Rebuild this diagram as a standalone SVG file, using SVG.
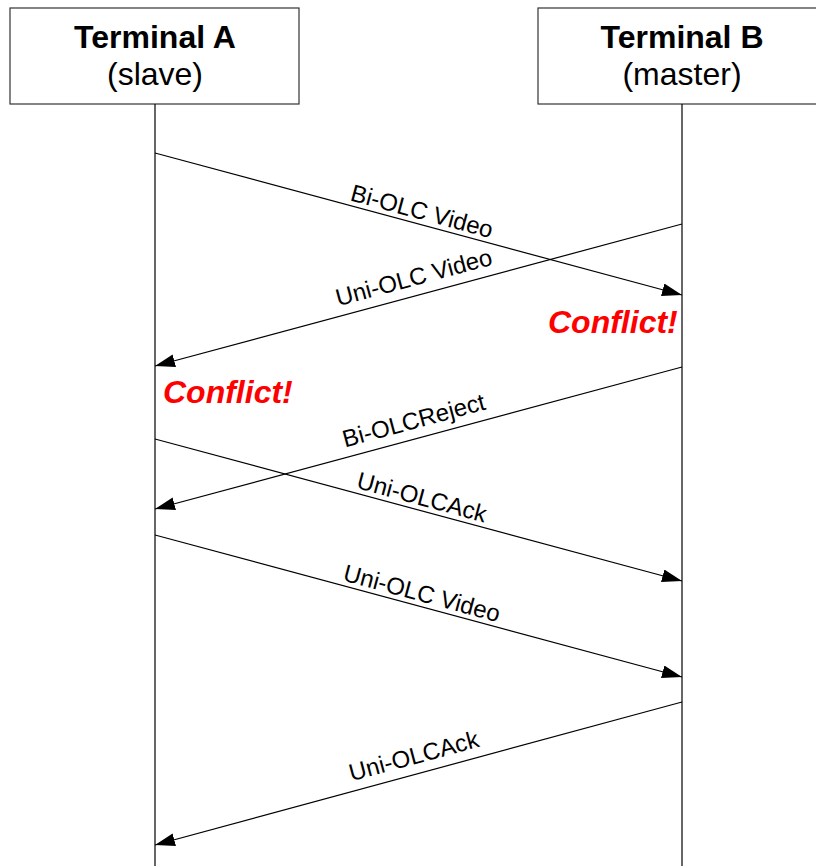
<svg xmlns="http://www.w3.org/2000/svg" width="816" height="866" viewBox="0 0 816 866">
<defs>
<style>
.box{fill:#fff;stroke:#333;stroke-width:1.2}
.life{stroke:#000;stroke-width:1.2;fill:none}
.msg{stroke:#000;stroke-width:1.2;fill:none;marker-end:url(#ah)}
.title{font-family:"Liberation Sans",Arial,sans-serif;font-size:32px;font-weight:bold;text-anchor:middle;fill:#000}
.sub{font-family:"Liberation Sans",Arial,sans-serif;font-size:32px;text-anchor:middle;fill:#000}
.lbl{font-family:"Liberation Sans",Arial,sans-serif;font-size:24px;text-anchor:middle;fill:#000}
.conf{font-family:"Liberation Sans",Arial,sans-serif;font-size:32px;font-weight:bold;font-style:italic;fill:#ff0000}
</style>
<marker id="ah" markerUnits="userSpaceOnUse" markerWidth="21" markerHeight="14" refX="20" refY="6.5" orient="auto">
<path d="M0,0 L20,6.5 L0,13 z" fill="#000"/>
</marker>
</defs>
<g id="terminalA">
<rect class="box" x="10" y="8" width="289" height="96"/>
<text class="title" x="155" y="48">Terminal A</text>
<text class="sub" x="155" y="85">(slave)</text>
<line class="life" x1="155" y1="104" x2="155" y2="866"/>
</g>
<g id="terminalB">
<rect class="box" x="538" y="8" width="289" height="96"/>
<text class="title" x="682" y="48">Terminal B</text>
<text class="sub" x="682" y="85">(master)</text>
<line class="life" x1="682" y1="104" x2="682" y2="866"/>
</g>
<g id="connectors">
<line class="msg" x1="155" y1="153" x2="682" y2="295"/>
<line class="msg" x1="682" y1="224" x2="155" y2="366"/>
<line class="msg" x1="682" y1="367" x2="155" y2="509"/>
<line class="msg" x1="155" y1="439" x2="682" y2="581"/>
<line class="msg" x1="155" y1="535" x2="682" y2="677"/>
<line class="msg" x1="682" y1="702" x2="155" y2="845"/>
</g>
<g id="labels">
<text class="lbl" transform="translate(418.5,224) rotate(15.08)" y="-5">Bi-OLC Video</text>
<text class="lbl" transform="translate(418.5,295) rotate(-15.08)" y="-10">Uni-OLC Video</text>
<text class="lbl" transform="translate(418.5,438) rotate(-15.08)" y="-10">Bi-OLCReject</text>
<text class="lbl" transform="translate(418.5,510) rotate(15.08)" y="-5">Uni-OLCAck</text>
<text class="lbl" transform="translate(418.5,606) rotate(15.08)" y="-5">Uni-OLC Video</text>
<text class="lbl" transform="translate(418.5,773.5) rotate(-15.08)" y="-10">Uni-OLCAck</text>
</g>
<g id="conflictB"><text class="conf" x="548" y="333">Conflict!</text></g>
<g id="conflictA"><text class="conf" x="163" y="403">Conflict!</text></g>
</svg>
